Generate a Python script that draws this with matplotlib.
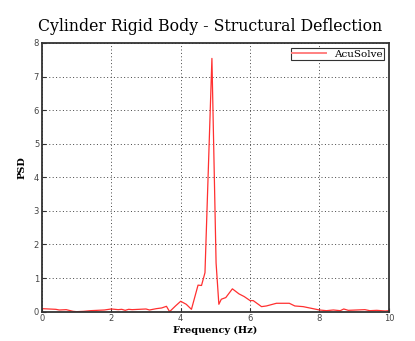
import matplotlib
matplotlib.use("Agg")
import matplotlib.pyplot as plt

# Power spectral density of structural deflection
freq = [0.0, 0.2, 0.4, 0.5, 0.7, 0.9, 1.0, 1.2, 1.4, 1.6, 1.8, 2.0, 2.2, 2.3, 2.4,
        2.5, 2.6, 2.8, 3.0, 3.1, 3.3, 3.45, 3.59, 3.68, 3.85, 4.0, 4.16, 4.31,
        4.5, 4.6, 4.7, 4.9, 5.02, 5.1, 5.17, 5.3, 5.49, 5.68, 5.83, 6.0, 6.09,
        6.33, 6.47, 6.76, 7.13, 7.29, 7.53, 8.0, 8.2, 8.4, 8.6, 8.7, 8.83, 9.07,
        9.31, 9.45, 9.65, 9.9, 10.0]
psd = [0.09, 0.08, 0.07, 0.05, 0.06, 0.01, 0.0, 0.01, 0.03, 0.04, 0.05, 0.08,
       0.06, 0.07, 0.04, 0.07, 0.06, 0.07, 0.08, 0.05, 0.09, 0.11, 0.16, 0.0,
       0.17, 0.31, 0.22, 0.07, 0.79, 0.78, 1.16, 7.54, 1.45, 0.22, 0.37, 0.42,
       0.68, 0.53, 0.45, 0.33, 0.33, 0.15, 0.17, 0.25, 0.25, 0.17, 0.15, 0.05,
       0.03, 0.05, 0.03, 0.08, 0.04, 0.05, 0.06, 0.03, 0.04, 0.02, 0.03]

x_ticks = [0, 2, 4, 6, 8, 10]
y_ticks = [0, 1, 2, 3, 4, 5, 6, 7, 8]

fig = plt.figure(figsize=(4.15, 3.41), dpi=100)
ax = fig.add_axes([0.101, 0.086, 0.836, 0.788])

ax.plot(freq, psd, color="#ff3030", linewidth=0.9, label="AcuSolve")

ax.set_xlim(0, 10)
ax.set_ylim(0, 8)
ax.set_xticks(x_ticks)
ax.set_yticks(y_ticks)
ax.tick_params(labelsize=6, labelcolor="#444444", direction="in", length=3,
               pad=2, color="#333333")
ax.grid(True, linestyle=(0, (1, 2.5)), color="#444444", linewidth=0.7)

for spine in ax.spines.values():
    spine.set_linewidth(1.3)
    spine.set_color("#333333")

fig.suptitle("Cylinder Rigid Body - Structural Deflection",
             family="DejaVu Serif", fontsize=11.3, x=0.506, y=0.948)
ax.set_xlabel("Frequency (Hz)", family="DejaVu Serif", fontweight="bold",
              fontsize=7, labelpad=2)
ax.set_ylabel("PSD", family="DejaVu Serif", fontweight="bold", fontsize=7)
ax.yaxis.set_label_coords(-0.045, 0.535)

leg = ax.legend(loc="upper right", prop={"family": "DejaVu Serif", "size": 7.5},
                fancybox=False, framealpha=1, borderpad=0.1, handlelength=3.2,
                handletextpad=0.8, borderaxespad=0.5)
leg.get_frame().set_edgecolor("#333333")
leg.get_frame().set_linewidth(0.8)
for line in leg.get_lines():
    line.set_color("#ff8080")
    line.set_linewidth(1.4)

fig.savefig("out.png", dpi=100)
